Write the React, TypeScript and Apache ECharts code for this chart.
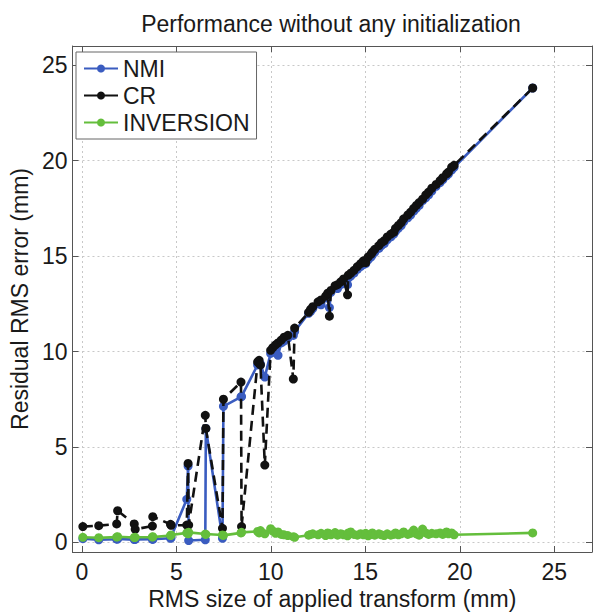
import React, { useEffect, useRef } from 'react';
import * as echarts from 'echarts';

// RMS size of applied transform (mm), one entry per test case
const rmsSize = [
  0.05, 0.89, 1.84, 1.89, 2.77, 2.82, 3.73, 3.75, 4.69, 4.72,
  5.55, 5.62, 5.65, 6.53, 6.56, 7.44, 7.49, 8.42, 8.45, 9.30,
  9.38, 9.45, 9.68, 9.99, 10.10, 10.25, 10.38, 10.55, 10.70, 10.90,
  11.19, 11.26, 12.00, 12.10, 12.22, 12.50, 12.66, 12.90, 13.01, 13.10,
  13.18, 13.40, 13.53, 13.70, 13.85, 14.06, 14.10, 14.23, 14.40, 14.58,
  14.75, 14.90, 15.02, 15.15, 15.30, 15.37, 15.50, 15.72, 15.85, 16.00,
  16.16, 16.35, 16.51, 16.60, 16.75, 16.90, 17.03, 17.25, 17.40, 17.56,
  17.70, 17.85, 18.03, 18.20, 18.35, 18.52, 18.75, 18.96, 19.10, 19.30,
  19.40, 19.57, 19.70, 23.86,
];

const nmiError = [
  0.20, 0.14, 0.17, 0.18, 0.15, 0.16, 0.17, 0.16, 0.22, 0.24,
  2.26, 4.00, 0.10, 0.14, 5.97, 0.22, 7.13, 7.62, 7.65, 9.30,
  9.42, 9.35, 8.66, 9.90, 10.00, 10.15, 9.80, 10.45, 10.55, 10.70,
  10.84, 11.05, 12.00, 12.10, 12.25, 12.50, 12.45, 12.80, 12.95, 12.30,
  13.10, 13.35, 13.30, 13.50, 13.65, 13.50, 13.85, 13.95, 14.10, 14.30,
  14.45, 14.55, 14.60, 14.80, 14.95, 15.05, 15.20, 15.40, 15.55, 15.65,
  15.85, 16.00, 16.15, 16.30, 16.45, 16.60, 16.80, 17.00, 17.15, 17.35,
  17.50, 17.65, 17.90, 18.05, 18.20, 18.40, 18.65, 18.85, 19.00, 19.20,
  19.30, 19.50, 19.65, 23.80,
];

const crError = [
  0.83, 0.88, 0.97, 1.66, 0.97, 0.69, 0.86, 1.35, 0.95, 0.90,
  0.91, 4.14, 0.91, 6.66, 5.97, 0.74, 7.50, 8.40, 0.83, 9.45,
  9.54, 9.30, 4.05, 10.06, 10.20, 10.35, 10.45, 10.60, 10.75, 10.85,
  8.56, 11.23, 12.05, 12.20, 12.35, 12.60, 12.70, 12.90, 13.05, 11.85,
  13.20, 13.45, 13.50, 13.65, 13.80, 12.97, 14.00, 14.10, 14.25, 14.45,
  14.60, 14.75, 14.65, 14.95, 15.10, 15.20, 15.35, 15.55, 15.70, 15.80,
  16.00, 16.15, 16.25, 16.45, 16.60, 16.75, 16.95, 17.15, 17.30, 17.50,
  17.65, 17.80, 17.98, 18.20, 18.35, 18.55, 18.75, 18.95, 19.10, 19.30,
  19.40, 19.65, 19.75, 23.80,
];

const inversionError = [
  0.27, 0.25, 0.28, 0.30, 0.26, 0.27, 0.28, 0.30, 0.36, 0.39,
  0.50, 0.45, 0.53, 0.44, 0.42, 0.39, 0.37, 0.50, 0.53, 0.58,
  0.50, 0.62, 0.45, 0.72, 0.60, 0.48, 0.55, 0.42, 0.40, 0.36,
  0.30, 0.27, 0.38, 0.42, 0.45, 0.40, 0.48, 0.36, 0.50, 0.45,
  0.40, 0.52, 0.38, 0.46, 0.40, 0.35, 0.50, 0.55, 0.42, 0.38,
  0.46, 0.40, 0.48, 0.35, 0.42, 0.50, 0.38, 0.45, 0.40, 0.36,
  0.45, 0.38, 0.42, 0.50, 0.40, 0.45, 0.55, 0.42, 0.48, 0.65,
  0.45, 0.38, 0.70, 0.50, 0.42, 0.48, 0.45, 0.50, 0.42, 0.55,
  0.45, 0.50, 0.40, 0.50,
];

const tickValues = [0, 5, 10, 15, 20, 25];
const seriesNames = ['NMI', 'CR', 'INVERSION'];

const FONT = '"Liberation Sans", Arial, Helvetica, sans-serif';
const FS = 23;
const AXIS_COLOR = '#555555';
const TEXT_COLOR = '#1a1a1a';

export default function App() {
  const ref = useRef<HTMLDivElement>(null);

  useEffect(() => {
    if (!ref.current) return;
    const chart = echarts.init(ref.current, null, { renderer: 'svg' });
    const pairs = (ys: number[]) => rmsSize.map((x, i) => [x, ys[i]]);
    const labelFmt = (v: number) =>
      tickValues.indexOf(Math.round(v * 1000) / 1000) >= 0 ? String(v) : '';

    const baseAxis = (extra: any) => ({
      type: 'value',
      axisLine: { show: true, onZero: false, lineStyle: { color: AXIS_COLOR, width: 1 } },
      axisTick: { show: true, inside: true, length: 6, lineStyle: { color: AXIS_COLOR } },
      ...extra,
    });

    const gridLine = { show: true, lineStyle: { color: '#c8c8c8', type: [2, 3], width: 1 } };

    const option: any = {
      animation: false,
      backgroundColor: '#ffffff',
      textStyle: { fontFamily: FONT },
      graphic: [
        {
          type: 'text',
          x: 331,
          y: 24,
          style: {
            text: 'Performance without any initialization',
            fontFamily: FONT,
            fontSize: FS,
            fill: TEXT_COLOR,
            align: 'center',
            verticalAlign: 'middle',
          },
        },
      ],
      grid: { left: 69, top: 46, width: 523, height: 506, containLabel: false },
      legend: {
        orient: 'vertical',
        left: 76,
        top: 52,
        padding: [5, 7, 5, 7],
        itemGap: 4,
        itemWidth: 34,
        itemHeight: 10,
        backgroundColor: '#ffffff',
        borderColor: '#666666',
        borderWidth: 1,
        borderRadius: 0,
        textStyle: { fontFamily: FONT, fontSize: FS, color: TEXT_COLOR, lineHeight: 23 },
        data: seriesNames.map((n) => ({ name: n, lineStyle: { type: 'solid' } })),
      },
      xAxis: [
        baseAxis({
          min: -0.5,
          max: 27,
          position: 'bottom',
          name: 'RMS size of applied transform (mm)',
          nameLocation: 'middle',
          nameGap: 33,
          nameTextStyle: { fontFamily: FONT, fontSize: FS, color: TEXT_COLOR },
          axisLabel: { formatter: labelFmt, fontFamily: FONT, fontSize: FS, color: TEXT_COLOR, margin: 8 },
          splitLine: gridLine,
        }),
        baseAxis({
          min: -0.5,
          max: 27,
          position: 'top',
          axisLabel: { show: false },
          splitLine: { show: false },
        }),
      ],
      yAxis: [
        baseAxis({
          min: -0.5,
          max: 26,
          position: 'left',
          name: 'Residual RMS error (mm)',
          nameLocation: 'middle',
          nameGap: 35,
          nameTextStyle: { fontFamily: FONT, fontSize: FS, color: TEXT_COLOR },
          axisLabel: { formatter: labelFmt, fontFamily: FONT, fontSize: FS, color: TEXT_COLOR, margin: 5 },
          splitLine: gridLine,
        }),
        baseAxis({
          min: -0.5,
          max: 26,
          position: 'right',
          axisLabel: { show: false },
          splitLine: { show: false },
        }),
      ],
      series: [
        {
          name: 'NMI',
          type: 'line',
          data: pairs(nmiError),
          symbol: 'circle',
          symbolSize: 9,
          color: '#3a5cc0',
          lineStyle: { width: 2.6, color: '#3a5cc0' },
          itemStyle: { color: '#3a5cc0' },
          z: 2,
        },
        {
          name: 'CR',
          type: 'line',
          data: pairs(crError),
          symbol: 'circle',
          symbolSize: 9,
          color: '#111111',
          lineStyle: { width: 2.6, color: '#111111', type: [10, 6] },
          itemStyle: { color: '#111111' },
          z: 3,
        },
        {
          name: 'INVERSION',
          type: 'line',
          data: pairs(inversionError),
          symbol: 'circle',
          symbolSize: 9,
          color: '#64be3c',
          lineStyle: { width: 2.6, color: '#64be3c' },
          itemStyle: { color: '#64be3c' },
          z: 4,
        },
      ],
    };

    chart.setOption(option);
    return () => chart.dispose();
  }, []);

  return (
    <div
      ref={ref}
      style={{ position: 'absolute', left: 0, top: 0, width: 606, height: 616 }}
    />
  );
}
